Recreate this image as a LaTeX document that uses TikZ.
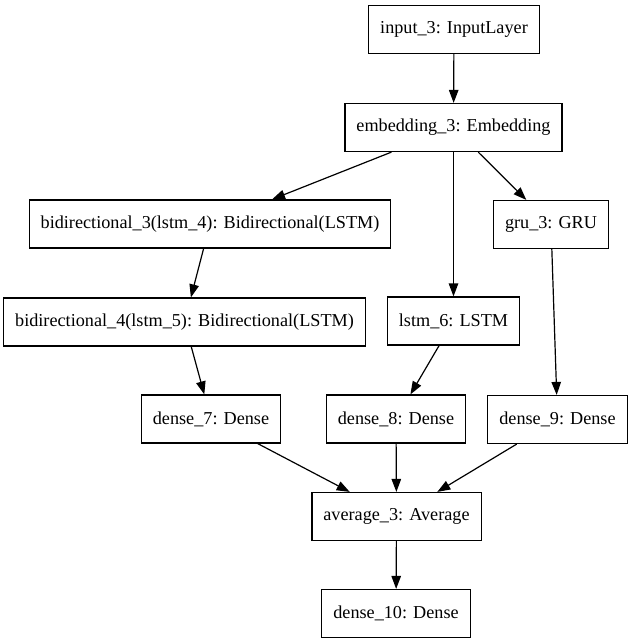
\documentclass[tikz,border=0pt]{standalone}
\usepackage{fontspec}
\setmainfont{Liberation Serif}
\usetikzlibrary{arrows.meta}

\tikzset{
  layer/.style={draw, line width=1.2pt, inner xsep=11.5pt, inner ysep=2pt,
    minimum height=48pt, font=\fontsize{18.2}{22}\selectfont},
  link/.style={line width=1.2pt, -{Triangle[length=13pt,width=9.5pt]}}
}

\begin{document}
\begin{tikzpicture}[x=1pt,y=-1pt]
\useasboundingbox (0,0) rectangle (630,644);
\node[layer] (input)  at (454,29.5)   {input\_3: InputLayer};
\node[layer] (embed)  at (453.5,127.5) {embedding\_3: Embedding};
\node[layer] (bidir3) at (210,224)    {bidirectional\_3(lstm\_4): Bidirectional(LSTM)};
\node[layer] (gru)    at (551,224.5)  {gru\_3: GRU};
\node[layer] (bidir4) at (184.5,322)  {bidirectional\_4(lstm\_5): Bidirectional(LSTM)};
\node[layer] (lstm)   at (453.5,321)  {lstm\_6: LSTM};
\node[layer] (dense7) at (211,419)    {dense\_7: Dense};
\node[layer] (dense8) at (396,419)    {dense\_8: Dense};
\node[layer] (dense9) at (557.5,419.5) {dense\_9: Dense};
\node[layer] (avg)    at (396.5,516.5) {average\_3: Average};
\node[layer] (dense10) at (396,613.5) {dense\_10: Dense};

\draw[link] (input) -- (embed);
\draw[link] (embed) -- (bidir3);
\draw[link] (embed) -- (lstm);
\draw[link] (embed) -- (gru);
\draw[link] (bidir3) -- (bidir4);
\draw[link] (bidir4) -- (dense7);
\draw[link] (lstm) -- (dense8);
\draw[link] (gru) -- (dense9);
\draw[link] (dense7) -- (avg);
\draw[link] (dense8) -- (avg);
\draw[link] (dense9) -- (avg);
\draw[link] (avg) -- (dense10);
\end{tikzpicture}
\end{document}
